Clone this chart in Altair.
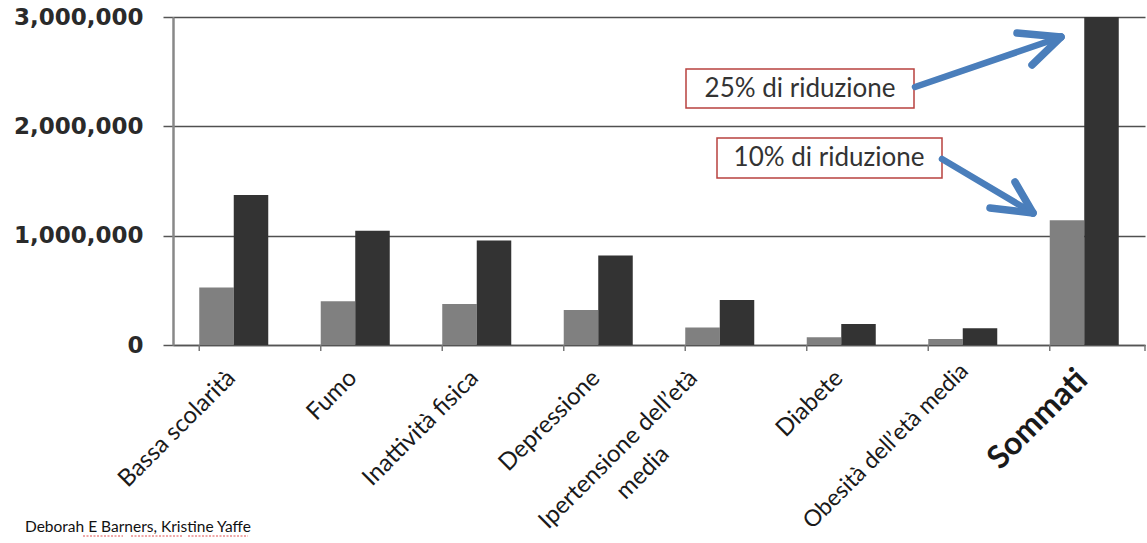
import altair as alt
import pandas as pd

categories = [
    "Bassa scolarità",
    "Fumo",
    "Inattività  fisica",
    "Depressione",
    "Ipertensione dell’età media",
    "Diabete",
    "Obesità dell’età media",
    "Sommati",
]
series = ["10% di riduzione", "25% di riduzione"]
vals_10 = [525000, 400000, 375000, 320000, 160000, 72000, 56000, 1140000]
vals_25 = [1372000, 1046000, 955000, 818000, 412000, 192000, 154000, 3000000]
y_ticks = [0, 1000000, 2000000, 3000000]
footer = "Deborah E Barners, Kristine Yaffe"
second_line = "media"

rows = []
for c, a, b in zip(categories, vals_10, vals_25):
    rows.append({"cat": c, "serie": series[0], "val": a})
    rows.append({"cat": c, "serie": series[1], "val": b})
df = pd.DataFrame(rows)

W, H = 972, 328
IPER = "datum.label == 'Ipertensione dell’età media' || datum.label == 'Ipertensione dell’età'"
OBES = "datum.label == 'Obesità dell’età media'"

x_axis = alt.Axis(
    title=None,
    labelAngle=-45,
    labelAlign="right",
    labelBaseline="middle",
    labelFont="Lato",
    labelFontSize={"condition": [
        {"test": "datum.label == 'Sommati'", "value": 32},
        {"test": OBES, "value": 23},
    ], "value": 24},
    labelFontWeight={"condition": {"test": "datum.label == 'Sommati'", "value": "bold"}, "value": "normal"},
    labelColor="#1a1a1a",
    labelPadding={"condition": {"test": OBES, "value": 22}, "value": 29},
    labelOffset={"condition": [
        {"test": IPER, "value": -26},
        {"test": OBES, "value": 2},
    ], "value": -2},
    labelLimit=400,
    labelExpr="datum.label == 'Ipertensione dell’età media' ? 'Ipertensione dell’età' : datum.label",
    ticks=False,
    domain=True,
    domainColor="#555555",
    domainWidth=1.5,
    grid=False,
)

x_scale = alt.Scale(paddingInner=0.432, paddingOuter=0.216)

bars = alt.Chart(df).mark_bar().encode(
    x=alt.X("cat:N", sort=categories, scale=x_scale, axis=x_axis),
    xOffset=alt.XOffset("serie:N", sort=series, scale=alt.Scale(paddingInner=0, paddingOuter=0)),
    y=alt.Y(
        "val:Q",
        scale=alt.Scale(domain=[0, 3000000], nice=False),
        axis=alt.Axis(
            title=None,
            values=y_ticks,
            format=",d",
            labelFont="DejaVu Sans",
            labelFontWeight="bold",
            labelFontSize=23,
            labelColor="#2a2a2a",
            labelPadding=20,
            tickSize=10,
            tickColor="#555555",
            tickWidth=1.5,
            grid=True,
            gridColor="#505050",
            gridWidth=1.5,
            domain=True,
            domainColor="#888888",
            domainWidth=2.5,
        ),
    ),
    color=alt.Color("serie:N", scale=alt.Scale(domain=series, range=["#808080", "#333333"]), legend=None),
)

tick_df = pd.DataFrame({"cat": categories})
xticks = alt.Chart(tick_df).mark_rule(color="#777777", strokeWidth=1.5).encode(
    x=alt.X("cat:N", sort=categories, bandPosition=0, scale=x_scale, axis=x_axis),
    y=alt.value(H),
    y2=alt.value(H + 6),
)
dummy = pd.DataFrame({"a": [0]})
last_tick = alt.Chart(dummy).mark_rule(color="#777777", strokeWidth=1.5).encode(
    x=alt.value(W), y=alt.value(H), y2=alt.value(H + 6)
)

# second line of the "Ipertensione dell’età media" axis label
label_line2 = alt.Chart(dummy).mark_text(
    text=second_line, font="Lato", fontSize=24, color="#1a1a1a", angle=315,
    align="center", baseline="middle",
).encode(x=alt.value(470), y=alt.value(456))


def box(x1, x2, y1, y2):
    return alt.Chart(dummy).mark_rect(fill="white", stroke="#b8423f", strokeWidth=1.5).encode(
        x=alt.value(x1), x2=alt.value(x2), y=alt.value(y1), y2=alt.value(y2)
    )


def label(txt, x, y, size=26, **kw):
    return alt.Chart(dummy).mark_text(
        text=txt, font="Lato", fontSize=size, color="#333333", align="center", baseline="middle", **kw
    ).encode(x=alt.value(x), y=alt.value(y))


def seg(x1, y1, x2, y2, w=6.5):
    return alt.Chart(dummy).mark_rule(color="#4a7ebb", strokeWidth=w, strokeCap="round").encode(
        x=alt.value(x1), y=alt.value(y1), x2=alt.value(x2), y2=alt.value(y2)
    )


def squiggle(x1, x2, y):
    return alt.Chart(dummy).mark_rule(color="#e05050", strokeWidth=1.2, strokeDash=[2, 1.5]).encode(
        x=alt.value(x1), x2=alt.value(x2), y=alt.value(y)
    )


annots = [
    box(513, 741, 52, 91),
    label(series[1], 627, 72),
    box(544, 769, 121, 161),
    label(series[0], 656, 141),
    seg(742, 70, 888, 20),
    seg(888, 20, 844, 16, 7.5),
    seg(888, 20, 859, 48, 7.5),
    seg(769, 142, 860, 196),
    seg(860, 196, 817, 191, 7.5),
    seg(860, 196, 842, 165, 7.5),
    alt.Chart(dummy).mark_text(
        text=footer, font="Lato", fontSize=15.5, color="#111111", align="left", baseline="alphabetic"
    ).encode(x=alt.value(-148), y=alt.value(515)),
    squiggle(-90, -50, 519),
    squiggle(-42, 10, 519),
    squiggle(15, 75, 519),
]

chart = alt.layer(bars, xticks, last_tick, label_line2, *annots).properties(
    width=W,
    height=H,
    autosize=alt.AutoSizeParams(type="none"),
    padding={"left": 173, "top": 17, "right": 2, "bottom": 198},
    background="white",
).configure_view(stroke=None)

chart.save("out.html", embed_options={"renderer": "svg", "actions": False})
